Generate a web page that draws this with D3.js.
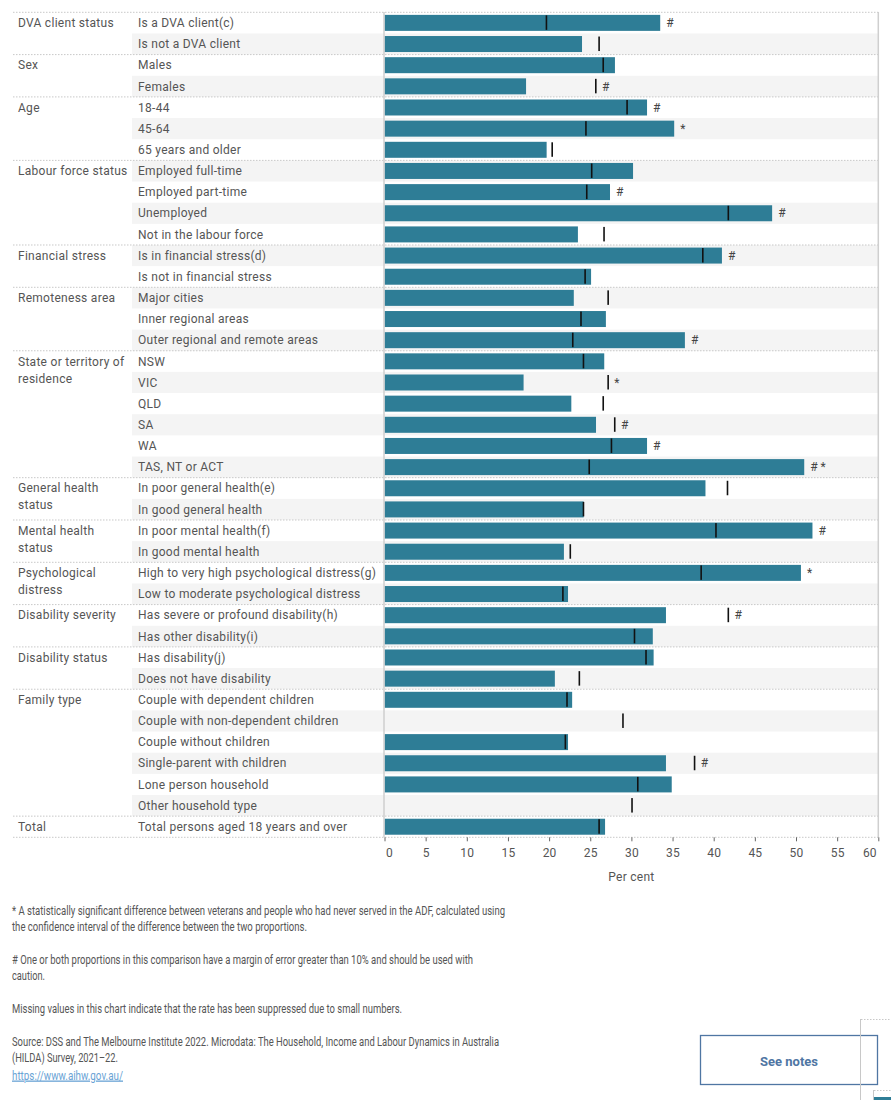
<!DOCTYPE html>
<meta charset="utf-8">
<script src="https://d3js.org/d3.v7.min.js"></script>
<style>
  body { margin: 0; background: #fff; }
  svg text { font-family: Roboto, "Open Sans", sans-serif; }
</style>
<body>
<div id="my_dataviz"></div>
<script>

// group headings ("\n" = line break as wrapped in the original)
const groups = ["DVA client status", "Sex", "Age", "Labour force status", "Financial stress",
  "Remoteness area", "State or territory of\nresidence", "General health\nstatus",
  "Mental health\nstatus", "Psychological\ndistress", "Disability severity",
  "Disability status", "Family type", "Total"];
const groupSizes = [2, 2, 3, 4, 2, 3, 6, 2, 2, 2, 2, 2, 6, 1];

const categories = [
  "Is a DVA client(c)", "Is not a DVA client",
  "Males", "Females",
  "18-44", "45-64", "65 years and older",
  "Employed full-time", "Employed part-time", "Unemployed", "Not in the labour force",
  "Is in financial stress(d)", "Is not in financial stress",
  "Major cities", "Inner regional areas", "Outer regional and remote areas",
  "NSW", "VIC", "QLD", "SA", "WA", "TAS, NT or ACT",
  "In poor general health(e)", "In good general health",
  "In poor mental health(f)", "In good mental health",
  "High to very high psychological distress(g)", "Low to moderate psychological distress",
  "Has severe or profound disability(h)", "Has other disability(i)",
  "Has disability(j)", "Does not have disability",
  "Couple with dependent children", "Couple with non-dependent children",
  "Couple without children", "Single-parent with children",
  "Lone person household", "Other household type",
  "Total persons aged 18 years and over"];

// veterans (bars), null = suppressed
const veterans = [33.5, 24.0, 28.0, 17.2, 31.9, 35.2, 19.7, 30.2, 27.4, 47.1, 23.5,
  41.0, 25.1, 23.0, 26.9, 36.5, 26.7, 16.9, 22.7, 25.7, 31.9, 51.0, 39.0, 24.2,
  52.0, 21.8, 50.6, 22.3, 34.2, 32.6, 32.7, 20.7, 22.8, null, 22.3, 34.2, 34.9, null, 26.8];

// people who had never served (reference ticks)
const neverServed = [19.7, 26.1, 26.6, 25.7, 29.5, 24.5, 20.4, 25.2, 24.6, 41.8, 26.7,
  38.7, 24.4, 27.2, 23.9, 22.9, 24.2, 27.2, 26.6, 28.0, 27.6, 24.9, 41.7, 24.2,
  40.3, 22.6, 38.5, 21.7, 41.8, 30.4, 31.8, 23.7, 22.2, 29.0, 22.0, 37.7, 30.8, 30.1, 26.1];

const flags = ["#", "", "", "#", "#", "*", "", "", "#", "#", "", "#", "", "", "", "#",
  "", "*", "", "#", "#", "# *", "", "", "#", "", "*", "", "#", "", "", "", "", "",
  "", "#", "", "", ""];

const xTicks = d3.range(0, 61, 5);

const footnotes = [
  ["* A statistically significant difference between veterans and people who had never served in the ADF, calculated using", 493],
  ["the confidence interval of the difference between the two proportions.", 295],
  ["", 0],
  ["# One or both proportions in this comparison have a margin of error greater than 10% and should be used with", 461],
  ["caution.", 33],
  ["", 0],
  ["Missing values in this chart indicate that the rate has been suppressed due to small numbers.", 390],
  ["", 0],
  ["Source: DSS and The Melbourne Institute 2022. Microdata: The Household, Income and Labour Dynamics in Australia", 487],
  ["(HILDA) Survey, 2021\u201322.", 106]
];

var width = 891
var height = 1100

var barColor = "#2e7d96"
var textColor = "#555"

var svg = d3.select("#my_dataviz")
  .append("svg")
    .attr("width", width)
    .attr("height", height)

var x = d3.scaleLinear()
  .domain([0, 60])
  .range([384.5, 878.3])

var y = d3.scaleBand()
  .domain(d3.range(categories.length))
  .range([12.3, 837.3])

// group start index of each row
var groupStart = []
var acc = 0
groupSizes.forEach(function(n){ groupStart.push(acc); acc += n })

// alternating shading
svg.append("g").selectAll("rect")
  .data(d3.range(categories.length).filter(function(i){ return i % 2 == 1 }))
  .enter().append("rect")
    .attr("x", 132)
    .attr("y", function(i){ return y(i) })
    .attr("width", x(60) - 132)
    .attr("height", y.bandwidth())
    .attr("fill", "#f4f4f4")

// bars
var rows = d3.range(categories.length).map(function(i){
  return { i: i, cat: categories[i], vet: veterans[i], never: neverServed[i], flag: flags[i] }
})

svg.append("g").selectAll("rect")
  .data(rows.filter(function(d){ return d.vet != null }))
  .enter().append("rect")
    .attr("x", x(0))
    .attr("y", function(d){ return y(d.i) + (y.bandwidth() - 16) / 2 })
    .attr("width", function(d){ return x(d.vet) - x(0) })
    .attr("height", 16)
    .attr("fill", barColor)

// never served reference ticks
svg.append("g").selectAll("rect")
  .data(rows)
  .enter().append("rect")
    .attr("x", function(d){ return x(d.never) - 1 })
    .attr("y", function(d){ return y(d.i) + (y.bandwidth() - 16) / 2 + 0.5 })
    .attr("width", 1.6)
    .attr("height", 14.5)
    .attr("fill", "#111")

// significance flags
svg.append("g").selectAll("text")
  .data(rows.filter(function(d){ return d.flag != "" }))
  .enter().append("text")
    .attr("x", function(d){ return x(Math.max(d.vet || 0, d.never)) + 6 })
    .attr("y", function(d){ return y(d.i) + y.bandwidth() / 2 })
    .attr("dy", "0.35em")
    .attr("font-size", "12px")
    .attr("fill", "#444")
    .text(function(d){ return d.flag })

// category labels
svg.append("g").selectAll("text")
  .data(rows)
  .enter().append("text")
    .attr("x", 138)
    .attr("y", function(d){ return y(d.i) + y.bandwidth() / 2 })
    .attr("dy", "0.35em")
    .attr("font-size", "12px")
    .attr("letter-spacing", "0.28px")
    .attr("fill", textColor)
    .text(function(d){ return d.cat })

// group labels
svg.append("g").selectAll("text")
  .data(groups)
  .enter().append("text")
    .attr("x", 18)
    .attr("y", function(d, k){ return y(groupStart[k]) + y.bandwidth() / 2 })
    .attr("font-size", "12px")
    .attr("letter-spacing", "0.28px")
    .attr("fill", textColor)
    .each(function(d){
      var t = d3.select(this)
      d.split("\n").forEach(function(line, j){
        t.append("tspan")
          .attr("x", 18)
          .attr("dy", j == 0 ? "0.35em" : "17px")
          .text(line)
      })
    })

// dotted group separators
var sepY = groupStart.map(function(s){ return y(s) }).concat([y.range()[1]])
svg.append("g").selectAll("line")
  .data(sepY)
  .enter().append("line")
    .attr("x1", 13)
    .attr("x2", x(60))
    .attr("y1", function(d){ return d })
    .attr("y2", function(d){ return d })
    .attr("stroke", "#c8c8c8")
    .attr("stroke-dasharray", "1.5,1.5")

// vertical frame lines
svg.append("g").selectAll("line")
  .data([x(0) - 0.5, x(60)])
  .enter().append("line")
    .attr("x1", function(d){ return d })
    .attr("x2", function(d){ return d })
    .attr("y1", 12)
    .attr("y2", 837.3)
    .attr("stroke", "#cfcfcf")
    .attr("stroke-width", 1.5)

// x axis
var axis = svg.append("g")
  .attr("transform", "translate(0," + y.range()[1] + ")")
  .call(d3.axisBottom(x).tickValues(xTicks).tickSize(4).tickPadding(7))
axis.select(".domain").remove()
axis.selectAll(".tick line").attr("stroke", "#666")
axis.selectAll(".tick text")
  .attr("font-size", "12px")
  .attr("font-family", "Roboto, sans-serif")
  .attr("letter-spacing", "0.2px")
  .attr("fill", textColor)
axis.selectAll(".tick").filter(function(d){ return d == 0 }).select("text")
  .attr("text-anchor", "start").attr("x", 1)
axis.selectAll(".tick").filter(function(d){ return d == 60 }).select("text")
  .attr("text-anchor", "end").attr("x", -2)

svg.append("text")
  .attr("x", (x(0) + x(60)) / 2)
  .attr("y", 881)
  .attr("text-anchor", "middle")
  .attr("font-size", "12px")
  .attr("letter-spacing", "0.28px")
  .attr("fill", textColor)
  .text("Per cent")

// footnotes
var notes = svg.append("g")
footnotes.forEach(function(f, k){
  if (f[0] == "") return
  notes.append("text")
    .attr("x", 12)
    .attr("y", 914.5 + k * 16.4)
    .attr("font-size", "13px")
    .attr("fill", textColor)
    .attr("textLength", f[1])
    .attr("lengthAdjust", "spacingAndGlyphs")
    .text(f[0])
})
notes.append("text")
  .attr("x", 12)
  .attr("y", 1079.5)
  .attr("font-size", "13px")
  .attr("fill", "#6aa3d5")
  .attr("text-decoration", "underline")
  .attr("textLength", 111)
  .attr("lengthAdjust", "spacingAndGlyphs")
  .text("https://www.aihw.gov.au/")

// See notes button
svg.append("rect")
  .attr("x", 700.5)
  .attr("y", 1035.5)
  .attr("width", 177)
  .attr("height", 49)
  .attr("fill", "none")
  .attr("stroke", "#4f76a3")
  .attr("stroke-width", 1.3)
svg.append("text")
  .attr("x", 789)
  .attr("y", 1061)
  .attr("dy", "0.35em")
  .attr("text-anchor", "middle")
  .attr("font-size", "13px")
  .attr("font-weight", "bold")
  .attr("fill", "#4f76a3")
  .text("See notes")

// bits of the next dashboard frame peeking in
svg.append("line").attr("x1", 860.5).attr("x2", 860.5).attr("y1", 1019).attr("y2", 1100)
  .attr("stroke", "#c8c8c8")
svg.append("line").attr("x1", 861).attr("x2", 891).attr("y1", 1019.5).attr("y2", 1019.5)
  .attr("stroke", "#c8c8c8").attr("stroke-dasharray", "1.5,1.5")
svg.append("line").attr("x1", 873.5).attr("x2", 873.5).attr("y1", 1090).attr("y2", 1100)
  .attr("stroke", "#c8c8c8")
svg.append("line").attr("x1", 874).attr("x2", 891).attr("y1", 1090.5).attr("y2", 1090.5)
  .attr("stroke", "#c8c8c8").attr("stroke-dasharray", "1.5,1.5")
svg.append("rect").attr("x", 874).attr("y", 1097).attr("width", 17).attr("height", 3)
  .attr("fill", barColor)

</script>
</body>
